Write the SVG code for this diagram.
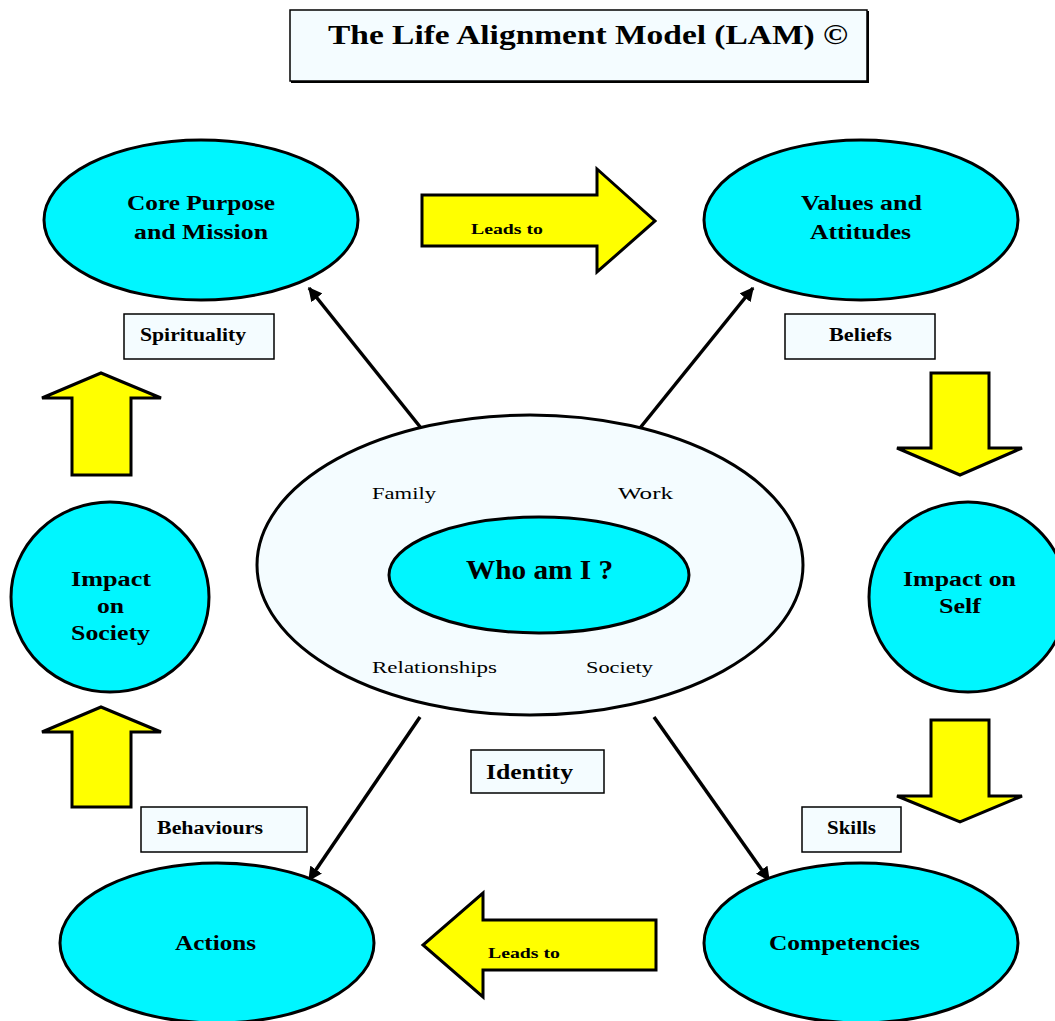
<svg xmlns="http://www.w3.org/2000/svg" width="1055" height="1021" viewBox="0 0 1055 1021">
<defs>
<style>
.bg{fill:#ffffff}
.node{fill:#00f6ff;stroke:#000;stroke-width:3}
.outer{fill:#f4fcff;stroke:#000;stroke-width:3}
.box{fill:#f4fcff;stroke:#000;stroke-width:1.5}
.shadow{fill:none;stroke:#000;stroke-width:2}
.yarrow{fill:#ffff00;stroke:#000;stroke-width:3;stroke-linejoin:miter}
.conn{fill:none;stroke:#000;stroke-width:3.5}
text{font-family:"Liberation Serif","Times New Roman",serif;fill:#000}
.t{font-size:20px;font-weight:bold}
.lbl{font-size:18px;font-weight:bold}
.sm{font-size:15px;font-weight:bold}
.ring{font-size:17px}
.title{font-size:27px;font-weight:bold}
</style>
<marker id="ah" viewBox="0 0 10 10" refX="9" refY="5" markerWidth="4" markerHeight="4" orient="auto" markerUnits="strokeWidth">
<path d="M0,0 L10,5 L0,10 z" fill="#000"/>
</marker>
</defs>
<rect class="bg" x="0" y="0" width="1055" height="1021"/>

<g id="title">
<rect class="box" x="290" y="10" width="577" height="71"/>
<path class="shadow" d="M868,11 V82 H291" stroke-width="3"/>
<text class="title" x="328" y="44" textLength="520" lengthAdjust="spacingAndGlyphs">The Life Alignment Model (LAM) ©</text>
</g>

<g id="connectors">
<line class="conn" x1="421" y1="428" x2="309" y2="288" marker-end="url(#ah)"/>
<line class="conn" x1="640" y1="428" x2="753" y2="288" marker-end="url(#ah)"/>
<line class="conn" x1="420" y1="717" x2="309" y2="880" marker-end="url(#ah)"/>
<line class="conn" x1="654" y1="717" x2="769" y2="880" marker-end="url(#ah)"/>
</g>

<g id="core-purpose">
<ellipse class="node" cx="201" cy="220" rx="157" ry="80"/>
<text class="t" x="127" y="210" textLength="148" lengthAdjust="spacingAndGlyphs">Core Purpose</text>
<text class="t" x="134" y="239" textLength="134" lengthAdjust="spacingAndGlyphs">and Mission</text>
</g>

<g id="values-attitudes">
<ellipse class="node" cx="861" cy="220" rx="157" ry="80"/>
<text class="t" x="801" y="210" textLength="121" lengthAdjust="spacingAndGlyphs">Values and</text>
<text class="t" x="810" y="239" textLength="101" lengthAdjust="spacingAndGlyphs">Attitudes</text>
</g>

<g id="leads-to-top">
<polygon class="yarrow" points="422,195 597,195 597,169 655,221 597,272 597,246 422,246"/>
<text class="sm" x="471" y="234" textLength="72" lengthAdjust="spacingAndGlyphs">Leads to</text>
</g>

<g id="spirituality">
<rect class="box" x="124" y="314" width="150" height="45"/>
<text class="lbl" x="140" y="341" textLength="106" lengthAdjust="spacingAndGlyphs">Spirituality</text>
</g>

<g id="beliefs">
<rect class="box" x="785" y="314" width="150" height="45"/>
<text class="lbl" x="829" y="341" textLength="63" lengthAdjust="spacingAndGlyphs">Beliefs</text>
</g>

<g id="up-arrow-top">
<polygon class="yarrow" points="72,475 72,398 42,398 101,373 161,398 131,398 131,475"/>
</g>

<g id="down-arrow-top">
<polygon class="yarrow" points="931,373 989,373 989,448 1022,448 960,475 897,448 931,448"/>
</g>

<g id="impact-society">
<ellipse class="node" cx="110" cy="597" rx="99" ry="95" stroke-width="2"/>
<text class="t" x="71" y="586" textLength="80" lengthAdjust="spacingAndGlyphs">Impact</text>
<text class="t" x="97" y="613" textLength="27" lengthAdjust="spacingAndGlyphs">on</text>
<text class="t" x="71" y="640" textLength="79" lengthAdjust="spacingAndGlyphs">Society</text>
</g>

<g id="impact-self">
<ellipse class="node" cx="968" cy="597" rx="99" ry="95" stroke-width="2"/>
<text class="t" x="903" y="586" textLength="113" lengthAdjust="spacingAndGlyphs">Impact on</text>
<text class="t" x="939" y="613" textLength="42" lengthAdjust="spacingAndGlyphs">Self</text>
</g>

<g id="identity-ring">
<ellipse class="outer" cx="530" cy="565" rx="273" ry="150"/>
<text class="ring" x="372" y="499" textLength="64" lengthAdjust="spacingAndGlyphs">Family</text>
<text class="ring" x="618" y="499" textLength="55" lengthAdjust="spacingAndGlyphs">Work</text>
<text class="ring" x="372" y="673" textLength="125" lengthAdjust="spacingAndGlyphs">Relationships</text>
<text class="ring" x="586" y="673" textLength="67" lengthAdjust="spacingAndGlyphs">Society</text>
</g>

<g id="who-am-i">
<ellipse class="node" cx="539" cy="575" rx="150" ry="58"/>
<text class="title" x="466" y="579" textLength="147" lengthAdjust="spacingAndGlyphs">Who am I ?</text>
</g>

<g id="identity">
<rect class="box" x="471" y="750" width="133" height="43"/>
<text class="t" x="486" y="779" textLength="87" lengthAdjust="spacingAndGlyphs">Identity</text>
</g>

<g id="up-arrow-bottom">
<polygon class="yarrow" points="72,807 72,732 42,732 101,707 161,732 131,732 131,807"/>
</g>

<g id="down-arrow-bottom">
<polygon class="yarrow" points="931,720 989,720 989,796 1022,796 960,822 897,796 931,796"/>
</g>

<g id="behaviours">
<rect class="box" x="141" y="807" width="166" height="45"/>
<text class="lbl" x="157" y="834" textLength="106" lengthAdjust="spacingAndGlyphs">Behaviours</text>
</g>

<g id="skills">
<rect class="box" x="802" y="807" width="99" height="45"/>
<text class="lbl" x="827" y="834" textLength="49" lengthAdjust="spacingAndGlyphs">Skills</text>
</g>

<g id="actions">
<ellipse class="node" cx="217" cy="943" rx="157" ry="80"/>
<text class="t" x="175" y="950" textLength="81" lengthAdjust="spacingAndGlyphs">Actions</text>
</g>

<g id="competencies">
<ellipse class="node" cx="861" cy="943" rx="157" ry="80"/>
<text class="t" x="769" y="950" textLength="151" lengthAdjust="spacingAndGlyphs">Competencies</text>
</g>

<g id="leads-to-bottom">
<polygon class="yarrow" points="656,920 483,920 483,893 423,945 483,997 483,970 656,970"/>
<text class="sm" x="488" y="958" textLength="72" lengthAdjust="spacingAndGlyphs">Leads to</text>
</g>
</svg>
